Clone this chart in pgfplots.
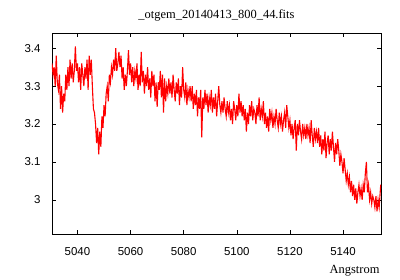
\documentclass[border=0pt]{standalone}
\usepackage{fontspec}
\setmainfont{Liberation Serif}
\setsansfont{Liberation Sans}
\usepackage{pgfplots}
\pgfplotsset{compat=1.18}

\pgfplotstableread{
x y
5030.4 3.36
5030.8 3.33
5031.2 3.35
5031.6 3.30
5032.0 3.38
5032.4 3.31
5032.8 3.29
5033.2 3.33
5033.6 3.24
5034.0 3.30
5034.4 3.23
5034.8 3.28
5035.2 3.26
5035.6 3.33
5036.0 3.29
5036.4 3.35
5036.8 3.30
5037.2 3.37
5037.6 3.32
5038.0 3.36
5038.4 3.31
5038.8 3.34
5039.2 3.405
5039.6 3.34
5040.0 3.36
5040.4 3.31
5040.8 3.35
5041.2 3.29
5041.6 3.36
5042.0 3.33
5042.4 3.30
5042.8 3.35
5043.2 3.32
5043.6 3.37
5044.0 3.29
5044.4 3.38
5044.8 3.33
5045.2 3.37
5045.6 3.30
5046.0 3.24
5046.4 3.23
5046.8 3.20
5047.2 3.15
5047.6 3.19
5048.0 3.12
5048.4 3.18
5048.8 3.14
5049.2 3.22
5049.6 3.19
5050.0 3.25
5050.4 3.22
5050.8 3.28
5051.2 3.30
5051.6 3.26
5052.0 3.33
5052.4 3.31
5052.8 3.35
5053.2 3.33
5053.6 3.37
5054.0 3.34
5054.4 3.40
5054.8 3.34
5055.2 3.36
5055.6 3.39
5056.0 3.35
5056.4 3.38
5056.8 3.32
5057.2 3.35
5057.6 3.29
5058.0 3.33
5058.4 3.30
5058.8 3.34
5059.2 3.395
5059.6 3.33
5060.0 3.36
5060.4 3.31
5060.8 3.35
5061.2 3.30
5061.6 3.34
5062.0 3.32
5062.4 3.36
5062.8 3.29
5063.2 3.33
5063.6 3.30
5064.0 3.39
5064.4 3.31
5064.8 3.34
5065.2 3.28
5065.6 3.33
5066.0 3.30
5066.4 3.35
5066.8 3.29
5067.2 3.32
5067.6 3.27
5068.0 3.34
5068.4 3.30
5068.8 3.33
5069.2 3.26
5069.6 3.31
5070.0 3.245
5070.4 3.31
5070.8 3.29
5071.2 3.34
5071.6 3.27
5072.0 3.33
5072.4 3.23
5072.8 3.32
5073.2 3.26
5073.6 3.30
5074.0 3.28
5074.4 3.32
5074.8 3.28
5075.2 3.31
5075.6 3.27
5076.0 3.33
5076.4 3.29
5076.8 3.26
5077.2 3.31
5077.6 3.28
5078.0 3.32
5078.4 3.25
5078.8 3.30
5079.2 3.27
5079.6 3.35
5080.0 3.29
5080.4 3.27
5080.8 3.31
5081.2 3.25
5081.6 3.29
5082.0 3.27
5082.4 3.30
5082.8 3.26
5083.2 3.30
5083.6 3.24
5084.0 3.28
5084.4 3.25
5084.8 3.29
5085.2 3.22
5085.6 3.27
5086.0 3.24
5086.4 3.29
5086.8 3.165
5087.2 3.27
5087.6 3.24
5088.0 3.29
5088.4 3.25
5088.8 3.28
5089.2 3.23
5089.6 3.27
5090.0 3.25
5090.4 3.29
5090.8 3.23
5091.2 3.27
5091.6 3.24
5092.0 3.28
5092.4 3.22
5092.8 3.26
5093.2 3.30
5093.6 3.25
5094.0 3.23
5094.4 3.26
5094.8 3.23
5095.2 3.27
5095.6 3.24
5096.0 3.22
5096.4 3.26
5096.8 3.23
5097.2 3.25
5097.6 3.21
5098.0 3.24
5098.4 3.20
5098.8 3.26
5099.2 3.24
5099.6 3.21
5100.0 3.25
5100.4 3.22
5100.8 3.28
5101.2 3.23
5101.6 3.26
5102.0 3.22
5102.4 3.25
5102.8 3.21
5103.2 3.24
5103.6 3.18
5104.0 3.23
5104.4 3.20
5104.8 3.25
5105.2 3.22
5105.6 3.26
5106.0 3.21
5106.4 3.24
5106.8 3.23
5107.2 3.20
5107.6 3.25
5108.0 3.22
5108.4 3.27
5108.8 3.21
5109.2 3.24
5109.6 3.22
5110.0 3.26
5110.4 3.20
5110.8 3.23
5111.2 3.19
5111.6 3.22
5112.0 3.18
5112.4 3.24
5112.8 3.21
5113.2 3.23
5113.6 3.19
5114.0 3.22
5114.4 3.20
5114.8 3.24
5115.2 3.21
5115.6 3.19
5116.0 3.23
5116.4 3.20
5116.8 3.22
5117.2 3.18
5117.6 3.21
5118.0 3.23
5118.4 3.19
5118.8 3.25
5119.2 3.22
5119.6 3.19
5120.0 3.21
5120.4 3.17
5120.8 3.20
5121.2 3.16
5121.6 3.19
5122.0 3.21
5122.4 3.13
5122.8 3.20
5123.2 3.17
5123.6 3.21
5124.0 3.18
5124.4 3.16
5124.8 3.20
5125.2 3.17
5125.6 3.19
5126.0 3.16
5126.4 3.20
5126.8 3.17
5127.2 3.19
5127.6 3.15
5128.0 3.21
5128.4 3.17
5128.8 3.14
5129.2 3.19
5129.6 3.16
5130.0 3.18
5130.4 3.15
5130.8 3.19
5131.2 3.14
5131.6 3.17
5132.0 3.12
5132.4 3.16
5132.8 3.13
5133.2 3.18
5133.6 3.11
5134.0 3.15
5134.4 3.17
5134.8 3.12
5135.2 3.16
5135.6 3.13
5136.0 3.18
5136.4 3.14
5136.8 3.10
5137.2 3.15
5137.6 3.12
5138.0 3.16
5138.4 3.13
5138.8 3.09
5139.2 3.12
5139.6 3.10
5140.0 3.07
5140.4 3.11
5140.8 3.08
5141.2 3.05
5141.6 3.07
5142.0 3.04
5142.4 3.06
5142.8 3.02
5143.2 3.05
5143.6 3.01
5144.0 3.04
5144.4 3.00
5144.8 3.03
5145.2 2.99
5145.6 3.02
5146.0 3.04
5146.4 3.01
5146.8 3.03
5147.2 3.00
5147.6 3.04
5148.0 3.02
5148.4 3.07
5148.8 3.10
5149.2 3.02
5149.6 3.04
5150.0 3.00
5150.4 3.02
5150.8 2.99
5151.2 3.01
5151.6 3.00
5152.0 2.98
5152.4 3.01
5152.8 2.97
5153.2 3.00
5153.6 2.98
5154.0 3.02
5154.2 3.04
}\spectrum

\begin{document}
\begin{tikzpicture}
\begin{axis}[
    at={(0,0)}, anchor=south west,
    scale only axis,
    width=329bp, height=201bp,
    xmin=5030.4, xmax=5154.3,
    ymin=2.91, ymax=3.44,
    xtick={5040,5060,...,5140},
    ytick={3,3.1,3.2,3.3,3.4},
    scaled x ticks=false,
    /pgf/number format/1000 sep={},
    /pgf/number format/assume math mode=true,
    tick align=inside,
    major tick length=4bp,
    axis line style={line width=0.8bp},
    tick style={line width=0.6bp, black},
    ticklabel style={font=\sffamily\fontsize{11.5}{13}\selectfont},
    xticklabel style={yshift=-10bp},
    yticklabel style={xshift=-8bp},
    title={\_otgem\_20140413\_800\_44.fits},
    title style={font=\fontsize{12.5}{14}\selectfont, at={(0.5,1)}, anchor=base, yshift=9bp},
    xlabel={Angstrom},
    xlabel style={font=\fontsize{12.5}{14}\selectfont, at={(axis description cs:1,0)}, anchor=base east, yshift=-39bp, xshift=2bp},
]
\addplot[red, line width=1.1bp, no marks] table {\spectrum};
\end{axis}
\path[use as bounding box] (-52bp,-46bp) rectangle (348bp,234bp);
\end{tikzpicture}
\end{document}
